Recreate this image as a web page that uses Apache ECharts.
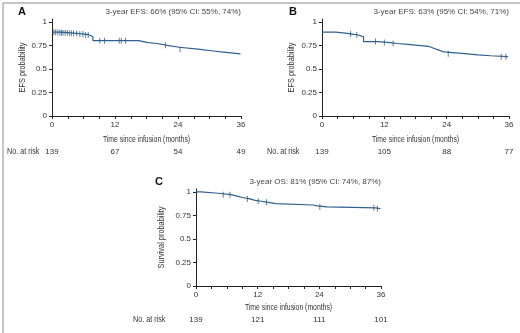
<!DOCTYPE html>
<html>
<head>
<meta charset="utf-8">
<script src="https://cdn.jsdelivr.net/npm/echarts@6/dist/echarts.min.js"></script>
<style>
  html, body { margin: 0; padding: 0; background: #fff; }
  #chart { width: 520px; height: 333px; }
</style>
</head>
<body>
<div id="chart"></div>
<script>
// Kaplan-Meier steps (months, probability)
const timesA = [0, 1.5, 3, 4.2, 5.2, 6.3, 7.2, 7.8, 16.5, 18.3, 20, 22, 24.2, 27.8, 30.8, 32.2, 35.9]
const probA = [0.89, 0.885, 0.88, 0.875, 0.87, 0.86, 0.84, 0.80, 0.78, 0.77, 0.75, 0.73, 0.71, 0.69, 0.68, 0.66, 0.66]
const censorA = [0.35, 0.7, 1.1, 1.5, 1.8, 2.1, 2.5, 2.9, 3.3, 3.7, 4.1, 4.7, 5.3, 5.9, 6.4, 6.9, 9.1, 10, 12.8, 13.2, 14, 21.6, 24.4]

const timesB = [0, 2.6, 4.5, 5.8, 7, 8, 10.8, 13, 14.5, 16.5, 18.5, 20.5, 21.5, 22.5, 23.5, 28, 30, 32.5, 35.8]
const probB = [0.89, 0.88, 0.87, 0.86, 0.84, 0.79, 0.78, 0.77, 0.76, 0.75, 0.74, 0.72, 0.70, 0.68, 0.66, 0.65, 0.64, 0.63, 0.63]
const censorB = [5.5, 6.7, 10.3, 12, 13.7, 24.3, 34.5, 35.4]

const timesC = [0, 1, 4.3, 6.8, 8, 9, 10.5, 11.5, 12.7, 13.8, 15.5, 22.8, 23.5, 25.5, 35, 35.9]
const probC = [1.0, 0.985, 0.97, 0.955, 0.94, 0.925, 0.91, 0.90, 0.89, 0.875, 0.86, 0.85, 0.84, 0.83, 0.82, 0.815]
const censorC = [5.3, 6.6, 10, 12.1, 13.7, 24.1, 34.6, 35.3]

const riskTicks = [0, 12, 24, 36]
const riskA = [139, 67, 54, 49]
const riskB = [139, 105, 88, 77]
const riskC = [139, 121, 111, 101]

const yTicks = [0, 0.25, 0.5, 0.75, 1]

const LINE = '#2f5f8f'
const TEXT = '#333'
const FONT = '"Liberation Sans", Arial, sans-serif'

const panels = [
    { letter: 'A', title: '3-year EFS: 66% (95% CI: 55%, 74%)', yName: 'EFS probability',
      t: timesA, s: probA, cens: censorA, risk: riskA,
      grid: { left: 52, top: 19, width: 189, height: 97 },
      yNameX: 23, letterX: 18, nameGap: 24, riskGap: 36, riskX: 7 },
    { letter: 'B', title: '3-year EFS: 63% (95% CI: 54%, 71%)', yName: 'EFS probability',
      t: timesB, s: probB, cens: censorB, risk: riskB,
      grid: { left: 322, top: 19, width: 187, height: 97 },
      yNameX: 292, letterX: 289, nameGap: 24, riskGap: 36, riskX: 267 },
    { letter: 'C', title: '3-year OS: 81% (95% CI: 74%, 87%)', yName: 'Survival probability',
      t: timesC, s: probC, cens: censorC, risk: riskC,
      grid: { left: 196, top: 189, width: 185, height: 97 },
      yNameX: 162, letterX: 155, nameGap: 22, riskGap: 34, riskX: 133 }
]

// probability at time t from the step curve
function stepValue(times, probs, t) {
    let v = probs[0]
    for (let i = 0; i < times.length; i++) {
        if (times[i] <= t) v = probs[i]
    }
    return v
}

const grids = [], xAxes = [], yAxes = [], series = [], graphics = []

panels.forEach((p, i) => {
    grids.push(p.grid)
    const bottom = p.grid.top + p.grid.height

    xAxes.push({
        type: 'value', gridIndex: i, min: 0, max: 36, interval: 3,
        axisLine: { lineStyle: { color: '#222', width: 1 } },
        axisTick: { length: 3, lineStyle: { color: '#222' } },
        splitLine: { show: false },
        axisLabel: {
            color: TEXT, fontSize: 8, fontFamily: FONT, margin: 5,
            formatter: v => (v % 12 === 0 ? String(v) : '')
        }
    })
    // number-at-risk row drawn as a label-only axis
    xAxes.push({
        type: 'value', gridIndex: i, min: 0, max: 36, position: 'bottom', offset: p.riskGap - 12,
        axisLine: { show: false }, axisTick: { show: false }, splitLine: { show: false },
        axisLabel: {
            color: TEXT, fontSize: 8, fontFamily: FONT,
            customValues: riskTicks,
            formatter: v => String(p.risk[riskTicks.indexOf(v)])
        }
    })

    yAxes.push({
        type: 'value', gridIndex: i, min: 0, max: 1.03,
        axisLine: { show: true, lineStyle: { color: '#222', width: 1 } },
        axisTick: { show: true, length: 3, customValues: yTicks, lineStyle: { color: '#222' } },
        splitLine: { show: false },
        axisLabel: { color: TEXT, fontSize: 8, fontFamily: FONT, margin: 5, customValues: yTicks }
    })

    series.push({
        type: 'line', step: 'end', xAxisIndex: i * 2, yAxisIndex: i,
        data: p.t.map((t, k) => [t, p.s[k]]),
        showSymbol: false, lineStyle: { color: LINE, width: 1.2 }, silent: true
    })
    series.push({
        type: 'scatter', xAxisIndex: i * 2, yAxisIndex: i,
        data: p.cens.map(t => [t, stepValue(p.t, p.s, t)]),
        symbol: 'rect', symbolSize: [1, 6], itemStyle: { color: LINE }, silent: true
    })

    // condensed-looking axis titles
    graphics.push({
        type: 'text', x: p.grid.left + p.grid.width / 2, y: bottom + p.nameGap, scaleX: 0.76,
        style: { text: 'Time since infusion (months)', font: '9px ' + FONT, fill: TEXT,
                 align: 'center', verticalAlign: 'middle' }
    })
    graphics.push({
        type: 'text', x: p.yNameX, y: p.grid.top + p.grid.height / 2, rotation: Math.PI / 2, scaleX: 0.82,
        style: { text: p.yName, font: '9px ' + FONT, fill: TEXT,
                 align: 'center', verticalAlign: 'middle' }
    })

    graphics.push({
        type: 'text', x: p.letterX, y: p.grid.top - 7,
        style: { text: p.letter, font: 'bold 11px ' + FONT, fill: '#111', verticalAlign: 'middle' }
    })
    graphics.push({
        type: 'text', x: p.grid.left + p.grid.width, y: p.grid.top - 7,
        style: { text: p.title, font: '8px ' + FONT, fill: '#444', align: 'right', verticalAlign: 'middle' }
    })
    graphics.push({
        type: 'text', x: p.riskX, y: bottom + p.riskGap, scaleX: 0.8,
        style: { text: 'No. at risk', font: '9px ' + FONT, fill: TEXT, verticalAlign: 'middle' }
    })
})

// outer frame
graphics.push({
    type: 'rect', left: 0.5, top: 0.5, silent: true,
    shape: { width: 518.5, height: 330.5 },
    style: { fill: 'none', stroke: '#8a8a8a', lineWidth: 1 }
})

const chart = echarts.init(document.getElementById('chart'))
chart.setOption({
    animation: false,
    grid: grids,
    xAxis: xAxes,
    yAxis: yAxes,
    series: series,
    graphic: graphics
})
</script>
</body>
</html>
